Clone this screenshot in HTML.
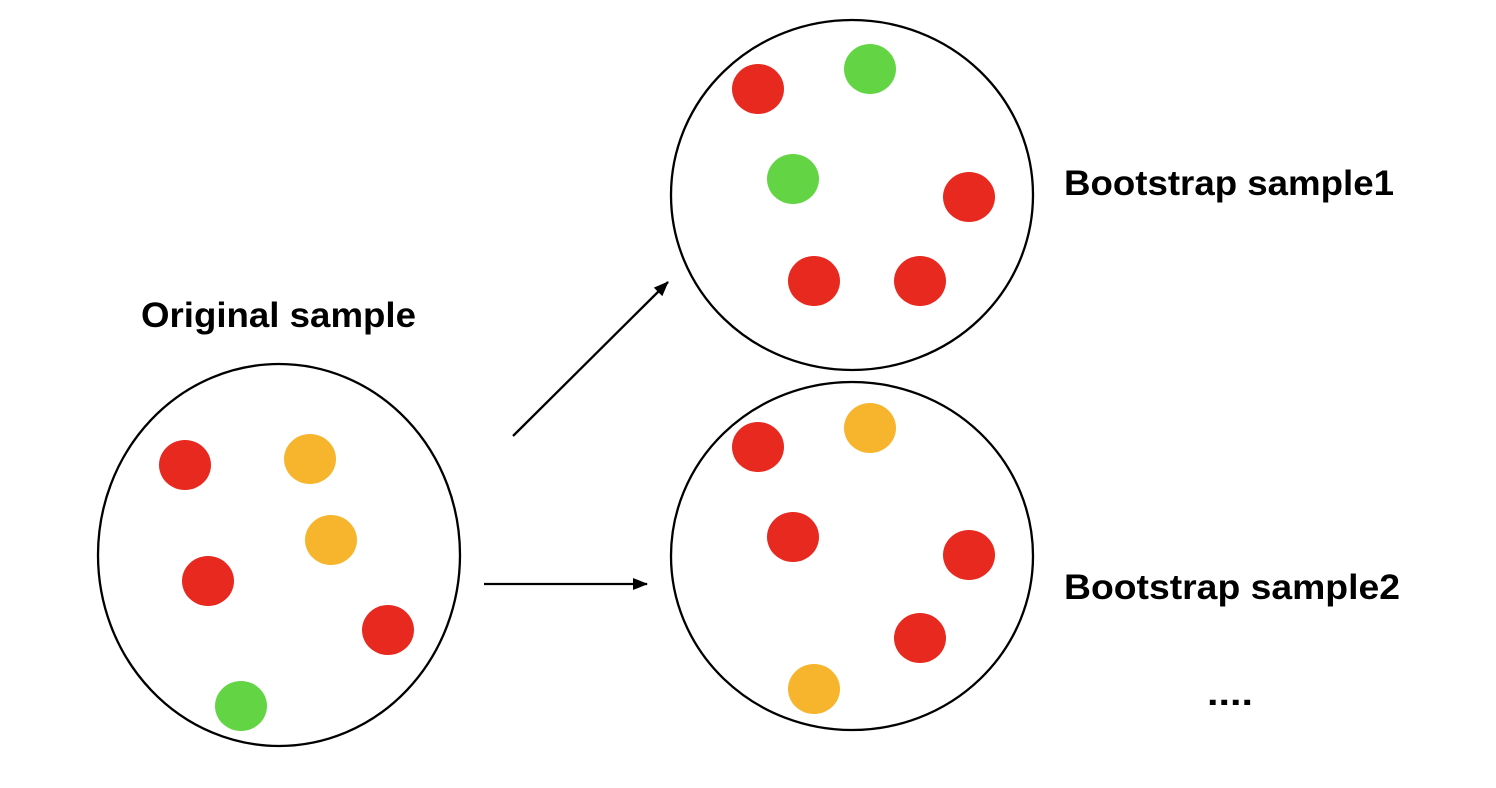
<!DOCTYPE html>
<html><head><meta charset="utf-8"><style>html,body{margin:0;padding:0;background:#fff}svg{display:block}</style></head>
<body>
<svg width="1496" height="788" viewBox="0 0 1496 788" xmlns="http://www.w3.org/2000/svg" font-family="Liberation Sans, Arial, sans-serif" font-weight="bold">
<defs><marker id="a" markerWidth="16" markerHeight="14" refX="14" refY="6" orient="auto" markerUnits="userSpaceOnUse" overflow="visible"><path d="M0,0 L15,6 L0,12 Z" fill="#000"/></marker></defs>
<g fill="none" stroke="#000" stroke-width="2.3">
<ellipse cx="279" cy="555" rx="181" ry="191"/>
<ellipse cx="852" cy="195" rx="181" ry="175"/>
<ellipse cx="852" cy="556" rx="181" ry="174"/>
<line x1="513" y1="436" x2="668" y2="282" marker-end="url(#a)"/>
<line x1="484" y1="584" x2="647" y2="584" marker-end="url(#a)"/>
</g>
<g>
<ellipse cx="185" cy="465" rx="26" ry="25" fill="#e8291f"/>
<ellipse cx="310" cy="459" rx="26" ry="25" fill="#f6b52c"/>
<ellipse cx="331" cy="540" rx="26" ry="25" fill="#f6b52c"/>
<ellipse cx="208" cy="581" rx="26" ry="25" fill="#e8291f"/>
<ellipse cx="388" cy="630" rx="26" ry="25" fill="#e8291f"/>
<ellipse cx="241" cy="706" rx="26" ry="25" fill="#63d544"/>
<ellipse cx="758" cy="89" rx="26" ry="25" fill="#e8291f"/>
<ellipse cx="870" cy="69" rx="26" ry="25" fill="#63d544"/>
<ellipse cx="793" cy="179" rx="26" ry="25" fill="#63d544"/>
<ellipse cx="969" cy="197" rx="26" ry="25" fill="#e8291f"/>
<ellipse cx="814" cy="281" rx="26" ry="25" fill="#e8291f"/>
<ellipse cx="920" cy="281" rx="26" ry="25" fill="#e8291f"/>
<ellipse cx="758" cy="447" rx="26" ry="25" fill="#e8291f"/>
<ellipse cx="870" cy="428" rx="26" ry="25" fill="#f6b52c"/>
<ellipse cx="793" cy="537" rx="26" ry="25" fill="#e8291f"/>
<ellipse cx="969" cy="555" rx="26" ry="25" fill="#e8291f"/>
<ellipse cx="920" cy="638" rx="26" ry="25" fill="#e8291f"/>
<ellipse cx="814" cy="689" rx="26" ry="25" fill="#f6b52c"/>
</g>
<g font-size="35" fill="#000">
<text x="141" y="327" textLength="275" lengthAdjust="spacingAndGlyphs">Original sample</text>
<text x="1064" y="195" textLength="330" lengthAdjust="spacingAndGlyphs">Bootstrap sample1</text>
<text x="1064" y="599" textLength="336" lengthAdjust="spacingAndGlyphs">Bootstrap sample2</text>
<text x="1207" y="705" textLength="46" lengthAdjust="spacingAndGlyphs">....</text>
</g>
</svg>
</body></html>
